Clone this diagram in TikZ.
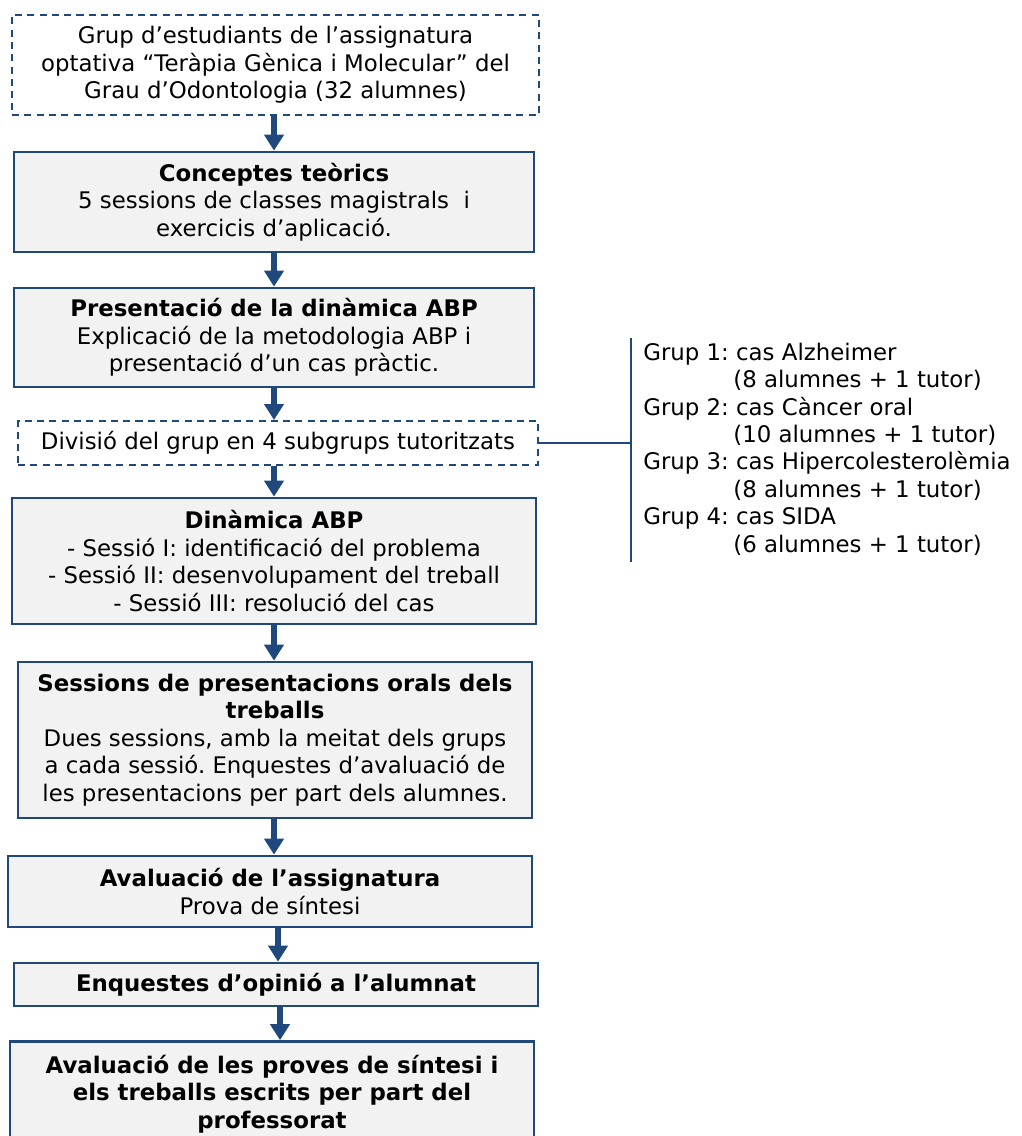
\documentclass[tikz,border=0pt]{standalone}
\usepackage{fontspec}
\setmainfont{DejaVu Sans}
\usepackage{tikz}
\usetikzlibrary{arrows.meta}

\definecolor{darkblue}{RGB}{31,73,125}
\definecolor{boxgray}{RGB}{242,242,242}

\tikzset{
    stepbox/.style={draw=darkblue, line width=1.5pt, fill=boxgray, align=center, inner sep=0pt,
        font=\fontsize{13}{15.6}\selectfont},
    dashbox/.style={draw=darkblue, line width=1.1pt, dash pattern=on 4pt off 3pt, fill=white,
        align=center, inner sep=0pt, font=\fontsize{13}{15.6}\selectfont},
    arr/.style={draw=darkblue, line width=3.6pt, -{Triangle[width=0.38cm,length=0.32cm]}}
}

\begin{document}
\frenchspacing
\begin{tikzpicture}
        % Fix the page size
        \useasboundingbox (0,0) rectangle (20.44,-22.72);

        % Draw the boxes
        \node[dashbox, minimum width=10.54cm, minimum height=2cm] (grup) at (5.51,-1.30)
            {Grup d’estudiants de l’assignatura\\optativa “Teràpia Gènica i Molecular” del\\Grau d’Odontologia (32 alumnes)};
        \node[stepbox, minimum width=10.4cm, minimum height=2cm] (conceptes) at (5.48,-4.04)
            {\textbf{Conceptes teòrics}\\5 sessions de classes magistrals~~i\\exercicis d’aplicació.};
        \node[stepbox, minimum width=10.4cm, minimum height=1.98cm] (presentacio) at (5.48,-6.75)
            {\textbf{Presentació de la dinàmica ABP}\\Explicació de la metodologia ABP i\\presentació d’un cas pràctic.};
        \node[dashbox, minimum width=10.4cm, minimum height=0.88cm] (divisio) at (5.56,-8.86)
            {Divisió del grup en 4 subgrups tutoritzats};
        \node[stepbox, minimum width=10.48cm, minimum height=2.52cm] (dinamica) at (5.48,-11.22)
            {\textbf{Dinàmica ABP}\\- Sessió I: identificació del problema\\- Sessió II: desenvolupament del treball\\- Sessió III: resolució del cas};
        \node[stepbox, minimum width=10.28cm, minimum height=3.12cm] (sessions) at (5.50,-14.80)
            {\textbf{Sessions de presentacions orals dels}\\\textbf{treballs}\\Dues sessions, amb la meitat dels grups\\a cada sessió. Enquestes d’avaluació de\\les presentacions per part dels alumnes.};
        \node[stepbox, minimum width=10.48cm, minimum height=1.42cm] (avaluacio) at (5.40,-17.83)
            {\textbf{Avaluació de l’assignatura}\\Prova de síntesi};
        \node[stepbox, minimum width=10.48cm, minimum height=0.86cm] (enquestes) at (5.52,-19.69)
            {\textbf{Enquestes d’opinió a l’alumnat}};
        \node[stepbox, minimum width=10.48cm, minimum height=2.1cm] (proves) at (5.44,-21.88)
            {\textbf{Avaluació de les proves de síntesi i}\\\textbf{els treballs escrits per part del}\\\textbf{professorat}};

        % Draw the arrows
        \draw[arr] (grup.south -| conceptes.north) -- (conceptes.north);
        \draw[arr] (conceptes.south) -- (presentacio.north);
        \draw[arr] (presentacio.south) -- (presentacio.south |- divisio.north);
        \draw[arr] (presentacio.south |- divisio.south) -- (presentacio.south |- dinamica.north);
        \draw[arr] (dinamica.south) -- (dinamica.south |- sessions.north);
        \draw[arr] (dinamica.south |- sessions.south) -- (dinamica.south |- avaluacio.north);
        \draw[arr] ([xshift=0.16cm]avaluacio.south) -- ([xshift=0.16cm]avaluacio.south |- enquestes.north);
        \draw[arr] ([xshift=0.2cm]avaluacio.south |- enquestes.south) -- ([xshift=0.2cm]avaluacio.south |- proves.north);

        % Draw the subgroups
        \coordinate (brtop) at (12.62,-6.76);
        \coordinate (brbot) at (12.62,-11.24);
        \draw[darkblue, line width=1pt] (brtop) -- (brbot);
        \draw[darkblue, line width=1pt] (divisio.east) -- (divisio.east -| brtop);
        \node[anchor=west, align=left, inner sep=0pt, font=\fontsize{13}{15.6}\selectfont] (grups) at (12.86,-8.98)
            {Grup 1: cas Alzheimer\\\hspace*{1.8cm}(8 alumnes + 1 tutor)\\
             Grup 2: cas Càncer oral\\\hspace*{1.8cm}(10 alumnes + 1 tutor)\\
             Grup 3: cas Hipercolesterolèmia\\\hspace*{1.8cm}(8 alumnes + 1 tutor)\\
             Grup 4: cas SIDA\\\hspace*{1.8cm}(6 alumnes + 1 tutor)};
    \end{tikzpicture}
\end{document}
